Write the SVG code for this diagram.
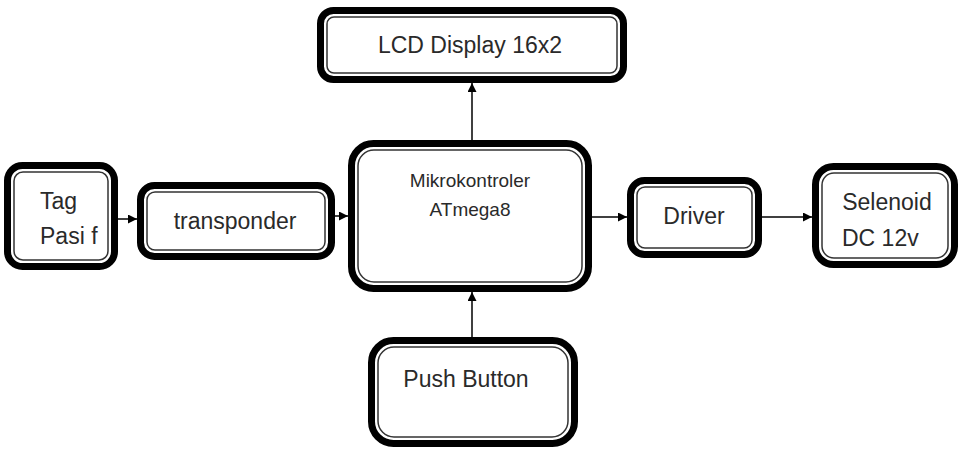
<svg xmlns="http://www.w3.org/2000/svg" width="962" height="450" viewBox="0 0 962 450">
<style>
.o{fill:#fff;stroke:#000;stroke-width:7}
.i{fill:none;stroke:#333;stroke-width:1.5}
.c{stroke:#000;stroke-width:1.5;fill:none}
text{font-family:"Liberation Sans",Arial,sans-serif;fill:#2a2a2a;font-size:23px}
.s{font-size:19px}
</style>
<defs>
<marker id="a" viewBox="0 0 10 10" refX="10" refY="5" markerWidth="9" markerHeight="9" markerUnits="userSpaceOnUse" orient="auto">
<path d="M0,0L10,5L0,10z" fill="#000"/>
</marker>
</defs>
<rect width="962" height="450" fill="#fff"/>
<g id="connectors">
<line class="c" x1="118" y1="219" x2="137" y2="219" marker-end="url(#a)"/>
<line class="c" x1="335" y1="216" x2="348" y2="216" marker-end="url(#a)"/>
<line class="c" x1="472" y1="140" x2="472" y2="83" marker-end="url(#a)"/>
<line class="c" x1="472" y1="337" x2="472" y2="292" marker-end="url(#a)"/>
<line class="c" x1="592" y1="217" x2="627" y2="217" marker-end="url(#a)"/>
<line class="c" x1="762" y1="217" x2="812" y2="217" marker-end="url(#a)"/>
</g>
<g id="tag">
<rect class="o" x="7.5" y="165.5" width="107" height="101" rx="15"/>
<rect class="i" x="14" y="172" width="94" height="88" rx="9"/>
<text x="40" y="209">Tag</text>
<text x="40" y="244">Pasi f</text>
</g>
<g id="transponder">
<rect class="o" x="140.5" y="185.5" width="191" height="71" rx="14"/>
<rect class="i" x="147" y="192" width="178" height="58" rx="8"/>
<text x="235" y="229" text-anchor="middle">transponder</text>
</g>
<g id="mikro">
<rect class="o" x="351.5" y="143.5" width="237" height="145" rx="22"/>
<rect class="i" x="358" y="150" width="224" height="132" rx="16"/>
<text class="s" x="470" y="187" text-anchor="middle">Mikrokontroler</text>
<text class="s" x="470" y="216" text-anchor="middle">ATmega8</text>
</g>
<g id="lcd">
<rect class="o" x="320.5" y="10.5" width="303" height="69" rx="13"/>
<rect class="i" x="327" y="17" width="290" height="56" rx="7"/>
<text x="470" y="53" text-anchor="middle">LCD Display 16x2</text>
</g>
<g id="driver">
<rect class="o" x="630.5" y="180.5" width="128" height="74" rx="14"/>
<rect class="i" x="637" y="187" width="115" height="61" rx="8"/>
<text x="694" y="224" text-anchor="middle">Driver</text>
</g>
<g id="selenoid">
<rect class="o" x="815.5" y="166.5" width="139" height="98" rx="18"/>
<rect class="i" x="822" y="173" width="126" height="85" rx="12"/>
<text x="887" y="210" text-anchor="middle">Selenoid</text>
<text x="842" y="246">DC 12v</text>
</g>
<g id="push">
<rect class="o" x="371.5" y="340.5" width="203" height="103" rx="22"/>
<rect class="i" x="378" y="347" width="190" height="90" rx="16"/>
<text x="466" y="387" text-anchor="middle">Push Button</text>
</g>
</svg>
